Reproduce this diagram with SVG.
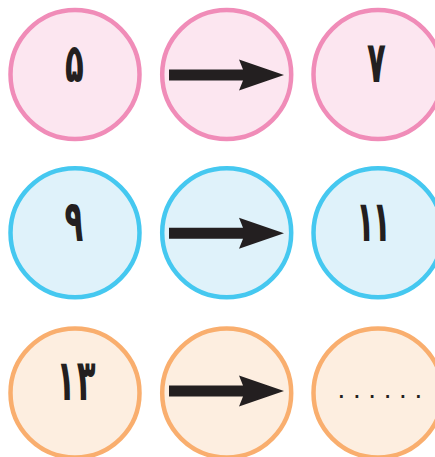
<svg xmlns="http://www.w3.org/2000/svg" width="435" height="457" viewBox="0 0 435 457">
<style>
.pink{fill:#FCE6F0;stroke:#F08CB8;stroke-width:4.5}
.blue{fill:#DFF2FA;stroke:#45C8F0;stroke-width:4.5}
.orange{fill:#FDEEE0;stroke:#F9AE6E;stroke-width:4.5}
.num{font-family:"DejaVu Sans","Noto Sans",sans-serif;font-weight:bold;font-size:44px;fill:#231F20;text-anchor:middle}
.arrow{fill:#231F20}
</style>
<defs>
<path id="arr" d="M0,-5.5 L74,-5.5 L70,-15.5 L115,0 L70,15.5 L74,5.5 L0,5.5 Z"/>
</defs>
<g id="r1c1"><circle class="pink" cx="75" cy="74.5" r="64.5"/><text class="num" transform="translate(74.5 82) scale(0.7 1.22)">۵</text></g>
<g id="r1c2"><circle class="pink" cx="226.7" cy="74.5" r="64.5"/></g>
<g id="r1c3"><circle class="pink" cx="378" cy="74.5" r="64.5"/><text class="num" transform="translate(376.5 82) scale(0.7 1.3)">۷</text></g>
<g id="r2c1"><circle class="blue" cx="75" cy="232.7" r="64.5"/><text class="num" transform="translate(74 241) scale(0.7 1.3)">۹</text></g>
<g id="r2c2"><circle class="blue" cx="226.7" cy="232.7" r="64.5"/></g>
<g id="r2c3"><circle class="blue" cx="378" cy="232.7" r="64.5"/><text class="num" textLength="50" lengthAdjust="spacing" transform="translate(373.5 241) scale(0.7 1.3)">۱۱</text></g>
<g id="r3c1"><circle class="orange" cx="75" cy="393" r="64.5"/><text class="num" textLength="56" lengthAdjust="spacing" transform="translate(76 400) scale(0.7 1.3)">۱۳</text></g>
<g id="r3c2"><circle class="orange" cx="226.7" cy="393" r="64.5"/></g>
<g id="r3c3"><circle class="orange" cx="378" cy="393" r="64.5"/><text x="338.5" y="397.5" font-family="DejaVu Sans, sans-serif" font-weight="bold" font-size="15" letter-spacing="9.7" fill="#231F20">......</text></g>
<g id="connectors" class="arrow">
<use href="#arr" x="169" y="75"/>
<use href="#arr" x="169" y="233.3"/>
<use href="#arr" x="169" y="391"/>
</g>
</svg>
